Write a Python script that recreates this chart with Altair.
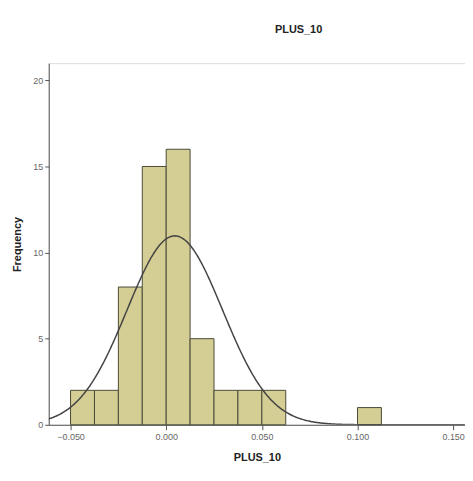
import altair as alt
import pandas as pd

# Histogram bins (PLUS_10)
bin_start = [-0.05, -0.0375, -0.025, -0.0125, 0.0, 0.0125, 0.025, 0.0375, 0.05, 0.10]
bin_end = [-0.0375, -0.025, -0.0125, 0.0, 0.0125, 0.025, 0.0375, 0.05, 0.0625, 0.1125]
counts = [2, 2, 8, 15, 16, 5, 2, 2, 2, 1]

# Normal curve parameters
n_obs = 55
bin_width = 0.0125
mean_val = 0.0045
sd_val = 0.025

x_ticks = [-0.05, 0.0, 0.05, 0.10, 0.15]
y_ticks = [0, 5, 10, 15, 20]
x_domain = [-0.0614, 0.1562]
y_domain = [0, 21]

bars_df = pd.DataFrame({"start": bin_start, "end": bin_end, "count": counts,
                        "base": [0] * len(counts)})

x_axis = alt.Axis(values=x_ticks, format=".3f", title="PLUS_10", labelFontSize=9,
                  labelColor="#666666", titleFontSize=11, titleFontWeight="bold",
                  titleColor="#222222", domainColor="#555555", tickColor="#555555",
                  tickSize=5, grid=False, labelPadding=3, titlePadding=10,
                  titleFont="Liberation Sans", labelFont="Liberation Sans")
y_axis = alt.Axis(values=y_ticks, title="Frequency", labelFontSize=9,
                  labelColor="#666666", titleFontSize=11, titleFontWeight="bold",
                  titleColor="#222222", domainColor="#555555", tickColor="#555555",
                  tickSize=4, grid=False, labelPadding=2, titlePadding=10,
                  titleFont="Liberation Sans", labelFont="Liberation Sans")

xs = alt.Scale(domain=x_domain, nice=False, zero=False)
ys = alt.Scale(domain=y_domain, nice=False)

bars = alt.Chart(bars_df).mark_rect(
    color="#D4CE94", stroke="#4A4A38", strokeWidth=1
).encode(
    x=alt.X("start:Q", scale=xs, axis=x_axis),
    x2="end:Q",
    y=alt.Y("count:Q", scale=ys, axis=y_axis),
    y2="base:Q",
)

curve = alt.Chart(alt.sequence(start=x_domain[0], stop=x_domain[1], step=0.0005, as_="x")).transform_calculate(
    y=f"{n_obs}*{bin_width}*densityNormal(datum.x, {mean_val}, {sd_val})"
).mark_line(color="#444444", strokeWidth=1.5, clip=True).encode(
    x=alt.X("x:Q", scale=xs),
    y=alt.Y("y:Q", scale=ys),
)

chart = alt.layer(bars, curve).properties(
    width=419,
    height=364,
    autosize=alt.AutoSizeParams(type="none"),
    padding={"left": 41, "top": 54, "right": 0, "bottom": 45},
    title=alt.TitleParams("PLUS_10", fontSize=11, fontWeight="bold", color="#222222",
                          font="Liberation Sans", anchor="middle", dx=42, offset=28),
).configure_view(
    fill="#EEEEEE", stroke="#999999", strokeWidth=1
).configure(background="white")

chart.save("out.html", embed_options={"renderer": "svg", "actions": False})
